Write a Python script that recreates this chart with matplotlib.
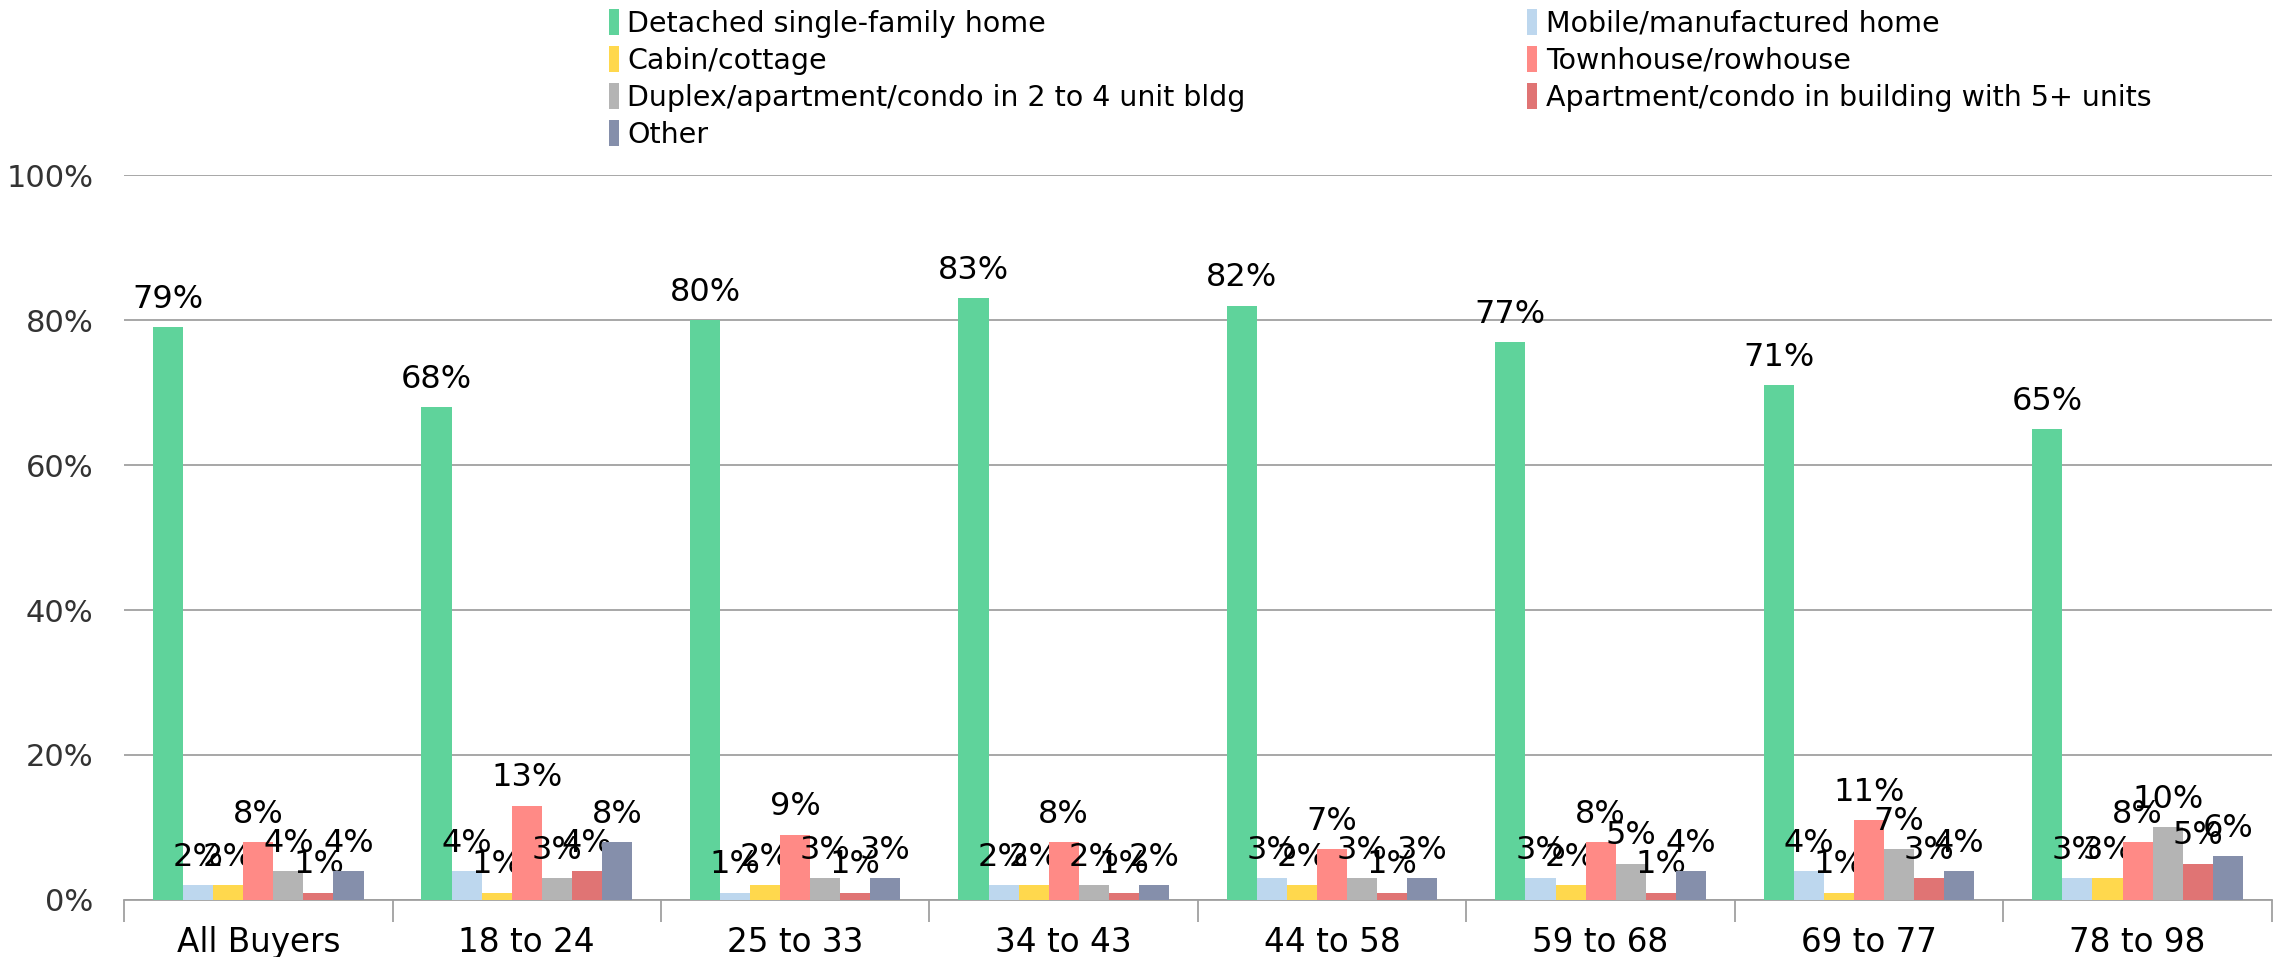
import numpy as np
import matplotlib.pyplot as plt

plt.rcParams['font.family'] = ['DejaVu Sans']

categories = ["All Buyers", "18 to 24", "25 to 33", "34 to 43", "44 to 58", "59 to 68", "69 to 77", "78 to 98"]
series_names = ["Detached single-family home", "Mobile/manufactured home", "Cabin/cottage",
                "Townhouse/rowhouse", "Duplex/apartment/condo in 2 to 4 unit bldg",
                "Apartment/condo in building with 5+ units", "Other"]
detached = [79, 68, 80, 83, 82, 77, 71, 65]
mobile = [2, 4, 1, 2, 3, 3, 4, 3]
cabin = [2, 1, 2, 2, 2, 2, 1, 3]
townhouse = [8, 13, 9, 8, 7, 8, 11, 8]
duplex = [4, 3, 3, 2, 3, 5, 7, 10]
apartment = [1, 4, 1, 1, 1, 1, 3, 5]
other = [4, 8, 3, 2, 3, 4, 4, 6]
colors = ["#5fd39b", "#bdd7ee", "#ffd84d", "#ff8a86", "#b4b4b4", "#e07474", "#858fab"]

series = [detached, mobile, cabin, townhouse, duplex, apartment, other]

fig = plt.figure(figsize=(22.8, 9.57), dpi=100)
ax = fig.add_axes([0.0544, 0.0596, 0.942, 0.7574])

x = np.arange(len(categories))
w = 0.112
bars = []
for i, (vals, c) in enumerate(zip(series, colors)):
    pos = x + (i - 3) * w
    b = ax.bar(pos, vals, width=w, color=c, label=series_names[i], zorder=3)
    bars.append(b)
    # value labels above each bar
    for px, v in zip(pos, vals):
        ax.annotate(f"{v}%", (px, v), xytext=(0, 20), textcoords="offset points",
                    ha="center", va="center", fontsize=23, color="black")

ax.set_xlim(-0.5, len(categories) - 0.5)
ax.set_ylim(0, 100)
ax.set_yticks(range(0, 101, 20))
ax.set_yticklabels([f"{t}%" for t in range(0, 101, 20)], fontsize=22, color="#333333")
ax.yaxis.grid(True, color="#a0a0a0", linewidth=1.3, zorder=0)
ax.tick_params(axis='y', length=0, pad=22)

ax.set_xticks(x)
ax.set_xticklabels(categories, fontsize=23.5, color="black")
ax.set_xticks(np.arange(-0.5, len(categories)), minor=True)
ax.tick_params(axis='x', which='major', length=0, pad=19)
ax.tick_params(axis='x', which='minor', length=16, color="#a0a0a0", width=1.3)

for s in ["top", "right", "left"]:
    ax.spines[s].set_visible(False)
ax.spines["bottom"].set_color("#a0a0a0")
ax.spines["bottom"].set_linewidth(1.3)

# legend: two columns, row-wise order like the original
order = [0, 2, 4, 6, 1, 3, 5]
handles = [bars[i] for i in order]
labels = [series_names[i] for i in order]
fig.legend(handles, labels, loc="upper left", bbox_to_anchor=(0.2557, 1.017), ncol=2,
           frameon=False, fontsize=20.5, handlelength=0.35, handleheight=1.0,
           handletextpad=0.3, columnspacing=9.9, labelspacing=0.3)

fig.savefig("out.png", dpi=100)
